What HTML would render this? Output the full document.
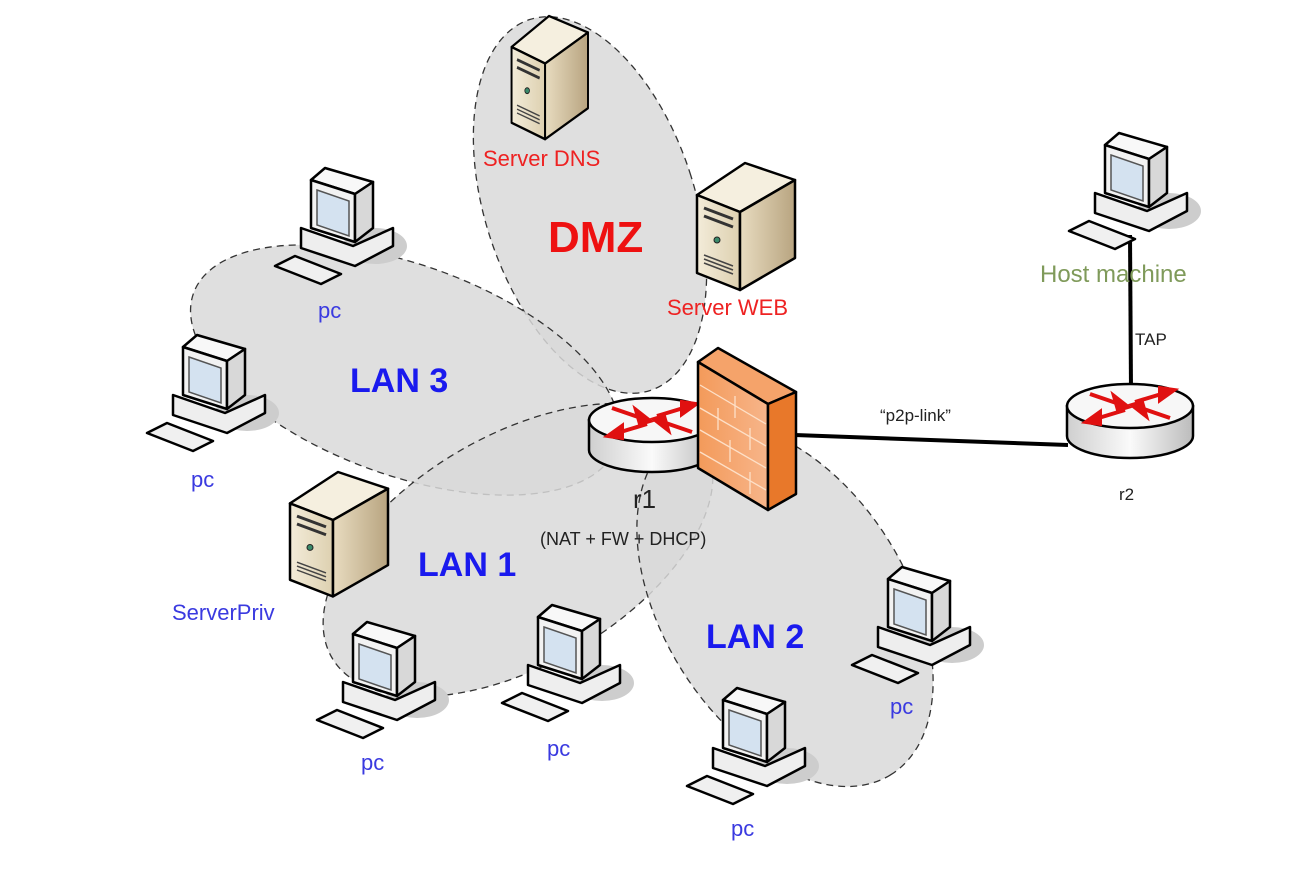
<!DOCTYPE html>
<html><head><meta charset="utf-8"><style>
html,body{margin:0;padding:0;background:#fff;}
svg{display:block;font-family:"Liberation Sans",sans-serif;}
</style></head><body>
<svg width="1297" height="877" viewBox="0 0 1297 877" xmlns="http://www.w3.org/2000/svg">
<defs>
<linearGradient id="srvF" x1="0" y1="0" x2="1" y2="0"><stop offset="0" stop-color="#f3ecd9"/><stop offset="1" stop-color="#ddd0b0"/></linearGradient>
<linearGradient id="srvS" x1="0" y1="0" x2="1" y2="0"><stop offset="0" stop-color="#e8dcc0"/><stop offset="1" stop-color="#b8a480"/></linearGradient>
<linearGradient id="fwF" x1="0" y1="0" x2="1" y2="0"><stop offset="0" stop-color="#f39a5a"/><stop offset="1" stop-color="#f7b58a"/></linearGradient>
<linearGradient id="rtS" x1="0" y1="0" x2="1" y2="0"><stop offset="0" stop-color="#cfcfcf"/><stop offset="0.5" stop-color="#fafafa"/><stop offset="1" stop-color="#bcbcbc"/></linearGradient>
<g id="pc">
 <ellipse cx="102" cy="80" rx="32" ry="18" fill="#cdcdcd"/>
 <polygon points="28,62 80,80 120,62 120,80 82,100 28,82" fill="#eeeeee" stroke="#000" stroke-width="2.5" stroke-linejoin="round"/>
 <polygon points="38,14 52,2 100,16 82,28" fill="#f8f8f8" stroke="#000" stroke-width="2.5" stroke-linejoin="round"/>
 <polygon points="38,14 82,28 82,76 38,62" fill="#f2f2f2" stroke="#000" stroke-width="2.5" stroke-linejoin="round"/>
 <polygon points="82,28 100,16 100,62 82,76" fill="#d8d8d8" stroke="#000" stroke-width="2.5" stroke-linejoin="round"/>
 <polygon points="44,24 76,35 76,70 44,59" fill="#d4e2f0" stroke="#555" stroke-width="1.5"/>
 <polygon points="2,100 22,90 68,108 48,118" fill="#f0f0f0" stroke="#000" stroke-width="2.5" stroke-linejoin="round"/>
</g>
<g id="srv">
 <polygon points="2,32 50,0 100,17 45,49" fill="#f5efdf" stroke="#000" stroke-width="2.5" stroke-linejoin="round"/>
 <polygon points="2,32 45,49 45,127 2,110" fill="url(#srvF)" stroke="#000" stroke-width="2.5" stroke-linejoin="round"/>
 <polygon points="45,49 100,17 100,95 45,127" fill="url(#srvS)" stroke="#000" stroke-width="2.5" stroke-linejoin="round"/>
 <line x1="9" y1="45" x2="38" y2="56" stroke="#333" stroke-width="3"/>
 <line x1="9" y1="53" x2="38" y2="64" stroke="#333" stroke-width="3"/>
 <circle cx="22" cy="77" r="3" fill="#3a8a6a" stroke="#222"/>
 <line x1="9" y1="92" x2="38" y2="103" stroke="#444" stroke-width="1.5"/>
 <line x1="9" y1="96" x2="38" y2="107" stroke="#444" stroke-width="1.5"/>
 <line x1="9" y1="100" x2="38" y2="111" stroke="#444" stroke-width="1.5"/>
</g>
<g id="rt">
 <path d="M-63,0 L-63,30 A63,22 0 0 0 63,30 L63,0 Z" fill="url(#rtS)" stroke="#000" stroke-width="2.5"/>
 <ellipse cx="0" cy="0" rx="63" ry="22" fill="#f7f7f7" stroke="#000" stroke-width="2.5"/>
 <g stroke="#e01010" stroke-width="4" fill="#e01010">
  <line x1="-40" y1="-12" x2="-5" y2="0"/><polygon points="-2,1 -16,-10 -12,4"/>
  <line x1="40" y1="12" x2="5" y2="0"/><polygon points="2,-1 16,10 12,-4"/>
  <line x1="-5" y1="4" x2="-38" y2="14"/><polygon points="-44,16 -30,6 -30,18"/>
  <line x1="5" y1="-4" x2="38" y2="-14"/><polygon points="44,-16 30,-6 30,-18"/>
 </g>
</g>
</defs>

<g fill="#d9d9d9" fill-opacity="0.85" stroke="#333" stroke-width="1.3" stroke-dasharray="7,5">
 <ellipse cx="590" cy="205" rx="105" ry="195" transform="rotate(-18 590 205)"/>
 <ellipse cx="405" cy="370" rx="225" ry="105" transform="rotate(20 405 370)"/>
 <ellipse cx="518" cy="550" rx="215" ry="115" transform="rotate(-30 518 550)"/>
 <ellipse cx="785" cy="605" rx="200" ry="122" transform="rotate(58 785 605)"/>
</g>

<line x1="795" y1="435" x2="1068" y2="445" stroke="#000" stroke-width="4"/>
<line x1="1130" y1="235" x2="1131" y2="390" stroke="#000" stroke-width="4"/>

<use href="#srv" transform="translate(510,16) scale(0.78,0.97)"/>
<use href="#srv" transform="translate(695,163)"/>
<use href="#srv" transform="translate(288,472) scale(1,0.98)"/>

<use href="#pc" x="273" y="166"/>
<use href="#pc" x="145" y="333"/>
<use href="#pc" x="315" y="620"/>
<use href="#pc" x="500" y="603"/>
<use href="#pc" x="685" y="686"/>
<use href="#pc" x="850" y="565"/>
<use href="#pc" x="1067" y="131"/>

<use href="#rt" transform="translate(652,420)"/>
<use href="#rt" transform="translate(1130,406)"/>

<g stroke="#000" stroke-width="2.5" stroke-linejoin="round">
 <polygon points="698,362 718,348 796,392 768,404" fill="#f5a36a"/>
 <polygon points="698,362 768,404 768,510 698,468" fill="url(#fwF)"/>
 <polygon points="768,404 796,392 796,494 768,510" fill="#e8782a"/>
</g>
<g stroke="#fde0c8" stroke-width="1.3" fill="none">
 <line x1="700" y1="385" x2="766" y2="424"/><line x1="700" y1="408" x2="766" y2="446"/>
 <line x1="700" y1="430" x2="766" y2="468"/><line x1="700" y1="452" x2="766" y2="490"/>
 <line x1="735" y1="396" x2="735" y2="418"/><line x1="718" y1="408" x2="718" y2="430"/>
 <line x1="750" y1="428" x2="750" y2="450"/><line x1="730" y1="440" x2="730" y2="462"/>
 <line x1="750" y1="472" x2="750" y2="494"/>
</g>

<g fill="#ee2222" font-size="22">
 <text x="483" y="166">Server DNS</text>
 <text x="667" y="315">Server WEB</text>
</g>
<text x="548" y="252" fill="#ee1111" font-size="44" font-weight="bold">DMZ</text>
<g fill="#1a1aee" font-size="34" font-weight="bold">
 <text x="350" y="392">LAN 3</text>
 <text x="418" y="576">LAN 1</text>
 <text x="706" y="648">LAN 2</text>
</g>
<g fill="#3a3ae0" font-size="22">
 <text x="318" y="318">pc</text>
 <text x="191" y="487">pc</text>
 <text x="361" y="770">pc</text>
 <text x="547" y="756">pc</text>
 <text x="731" y="836">pc</text>
 <text x="890" y="714">pc</text>
 <text x="172" y="620">ServerPriv</text>
</g>
<text x="1040" y="282" fill="#7f9a5a" font-size="24">Host machine</text>
<g fill="#222">
 <text x="633" y="508" font-size="26">r1</text>
 <text x="540" y="545" font-size="18">(NAT + FW + DHCP)</text>
 <text x="1119" y="500" font-size="17">r2</text>
 <text x="1135" y="345" font-size="17">TAP</text>
 <text x="880" y="421" font-size="17">“p2p-link”</text>
</g>
</svg>
</body></html>
